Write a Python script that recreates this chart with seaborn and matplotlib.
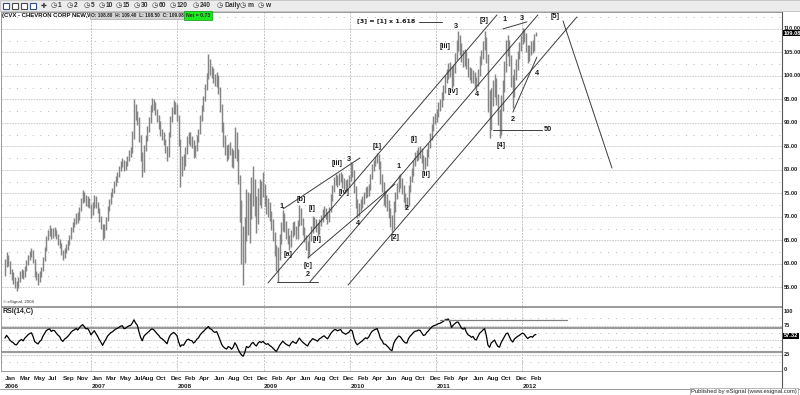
import numpy as np
import pandas as pd
import matplotlib
matplotlib.use("Agg")
import matplotlib.pyplot as plt
from matplotlib import font_manager as fm
import seaborn as sns

# ------------------------------------------------------------------ data
FIRST_WEEK = "2006-01-02"

CLOSE = [
    # 2006
    59.5, 61.5, 60.2, 58.5, 57.5, 56.8, 55.5, 55.2, 56.5, 57.6,
    58.2, 57.4, 59.0, 60.0, 61.2, 62.0, 62.5, 60.8, 58.0, 57.2,
    56.5, 57.8, 58.6, 61.0, 63.0, 65.5, 66.5, 67.2, 66.0, 67.0,
    66.8, 65.8, 64.9, 64.2, 62.5, 61.6, 62.8, 63.5, 64.4, 65.6,
    67.2, 68.3, 69.0, 70.2, 69.6, 71.5, 73.4, 74.8, 74.0, 73.2, 73.6, 72.6,
    # 2007
    71.0, 72.5, 74.0, 72.8, 71.5, 69.8, 68.2, 66.0, 67.8, 69.5,
    71.8, 73.2, 74.8, 75.5, 77.0, 78.2, 79.0, 80.2, 81.4, 81.8,
    80.6, 81.2, 82.5, 83.6, 84.0, 87.0, 93.0, 91.5, 90.5, 87.0,
    83.0, 80.0, 84.5, 86.8, 88.6, 90.5, 93.0, 94.5, 93.8, 92.5,
    91.0, 89.8, 88.0, 87.2, 86.0, 84.5, 83.0, 87.5, 90.8, 92.6, 93.8, 92.8,
    # 2008
    91.5, 86.0, 80.5, 82.0, 81.5, 84.0, 86.5, 87.2, 86.0, 85.8,
    83.5, 84.6, 86.8, 88.0, 91.0, 93.2, 95.0, 97.5, 99.8, 102.5,
    101.0, 100.5, 99.2, 98.6, 99.5, 97.0, 93.5, 89.0, 86.0, 84.2,
    83.0, 84.8, 84.0, 81.5, 83.0, 86.5, 83.5, 78.0, 72.0, 66.0,
    62.5, 66.0, 72.5, 70.0, 71.5, 74.8, 76.5, 72.8, 70.5, 74.0, 76.0, 74.5,
    # 2009
    76.0, 73.5, 71.8, 72.5, 70.0, 68.5, 66.0, 63.0, 60.2, 62.5,
    65.5, 68.0, 70.2, 68.0, 66.2, 65.0, 64.0, 66.5, 68.2, 67.0,
    66.0, 68.5, 71.2, 69.0, 67.0, 65.5, 64.0, 62.8, 65.5, 67.2,
    69.2, 68.5, 67.8, 67.0, 68.8, 69.6, 70.8, 71.5, 70.4, 69.5,
    71.5, 74.0, 76.0, 77.8, 78.2, 77.5, 78.4, 78.8, 77.4, 77.0, 76.5, 77.2, 78.0,
    # 2010
    80.0, 79.5, 76.0, 73.0, 71.2, 72.0, 72.8, 73.5, 74.6, 75.5,
    75.0, 76.2, 78.5, 80.5, 81.5, 82.2, 83.0, 81.0, 78.0, 76.5,
    74.0, 73.8, 72.5, 71.0, 69.0, 68.0, 72.0, 74.5, 76.2, 78.0,
    77.5, 76.0, 74.2, 73.0, 72.8, 76.0, 78.0, 79.5, 81.5, 82.8,
    83.0, 84.0, 83.8, 82.5, 81.2, 81.6, 83.5, 85.0, 87.0, 89.0, 90.5, 91.3,
    # 2011
    92.0, 93.5, 94.0, 95.5, 97.0, 99.5, 100.5, 102.0, 101.0, 98.5,
    101.5, 104.0, 106.5, 107.0, 105.5, 104.0, 103.5, 104.8, 102.5, 101.0,
    100.5, 99.5, 100.2, 98.5, 98.0, 100.5, 103.2, 104.5, 106.5, 107.8,
    104.0, 95.0, 92.0, 96.0, 97.5, 99.0, 95.0, 91.0, 90.0, 94.5,
    98.0, 102.0, 106.5, 107.5, 103.5, 99.0, 96.5, 100.5, 102.5, 104.5, 106.0, 108.0,
    # 2012
    109.5, 108.5, 106.0, 104.0, 105.5, 106.5, 105.8, 108.2, 109.08,
]

HIGH = [
    # 2006
    61.0, 62.6, 62.0, 60.6, 59.0, 58.2, 57.2, 56.3, 57.3, 58.4,
    59.0, 58.8, 59.6, 60.8, 61.8, 62.7, 63.4, 62.9, 61.0, 58.6,
    58.0, 58.4, 59.3, 61.5, 63.6, 66.0, 67.3, 68.3, 67.6, 67.7,
    67.8, 67.2, 66.3, 65.4, 64.5, 63.0, 63.4, 64.2, 65.0, 66.2,
    67.8, 69.0, 69.8, 70.9, 71.0, 72.2, 74.0, 75.8, 75.4, 74.6, 74.4, 74.0,
    # 2007
    72.8, 73.2, 74.6, 74.4, 73.2, 71.8, 70.2, 68.5, 68.5, 70.0,
    72.3, 73.8, 75.4, 76.2, 77.6, 78.8, 79.6, 80.8, 82.0, 82.5,
    82.2, 81.9, 83.0, 84.2, 84.8, 88.2, 95.0, 94.0, 92.5, 91.2,
    87.5, 83.8, 85.2, 87.4, 89.3, 91.2, 93.8, 95.4, 95.0, 94.4,
    93.0, 91.6, 90.4, 88.8, 88.0, 86.6, 85.0, 88.0, 91.5, 93.3, 94.9, 94.4,
    # 2008
    94.0, 91.6, 86.5, 83.0, 83.4, 84.8, 87.2, 88.0, 88.0, 87.2,
    86.4, 85.4, 87.4, 88.7, 91.6, 93.8, 95.8, 98.2, 100.6, 104.6,
    103.6, 102.2, 101.6, 100.4, 100.8, 100.2, 97.6, 94.0, 90.2, 87.4,
    85.4, 85.6, 86.0, 84.6, 84.2, 89.2, 88.0, 84.4, 79.0, 73.5,
    68.0, 70.0, 76.0, 75.4, 75.0, 78.6, 80.8, 78.0, 74.4, 76.2, 78.0, 77.6,
    # 2009
    79.5, 77.0, 74.6, 74.0, 73.2, 71.2, 69.6, 66.8, 64.0, 63.6,
    66.4, 69.0, 71.4, 70.8, 69.2, 67.6, 66.2, 67.2, 69.0, 69.2,
    68.0, 69.4, 72.6, 71.8, 69.8, 67.8, 66.2, 64.8, 66.2, 68.0,
    70.2, 70.0, 69.6, 68.8, 69.6, 70.4, 71.6, 72.4, 72.0, 71.0,
    72.2, 74.8, 76.8, 78.6, 79.2, 79.0, 79.4, 79.6, 79.2, 78.2, 77.8, 78.0, 79.0,
    # 2010
    81.6, 81.4, 80.0, 76.6, 73.8, 73.0, 73.8, 74.4, 75.4, 76.4,
    76.6, 77.0, 79.2, 81.2, 82.2, 83.0, 83.6, 83.4, 81.8, 79.2,
    77.4, 75.6, 74.8, 73.6, 72.0, 70.4, 73.4, 75.4, 77.2, 79.0,
    79.2, 78.2, 76.8, 75.0, 74.2, 76.8, 78.8, 80.4, 82.2, 83.8,
    84.2, 84.8, 85.0, 84.6, 83.2, 82.8, 84.4, 85.8, 87.8, 89.8, 91.4, 92.2,
    # 2011
    93.0, 94.4, 95.0, 96.6, 98.0, 100.2, 101.4, 102.8, 103.0, 101.8,
    102.4, 104.8, 107.6, 109.6, 108.8, 107.0, 105.6, 105.8, 105.4, 103.8,
    102.0, 101.6, 101.2, 100.8, 99.8, 101.4, 104.2, 105.6, 107.4, 109.6,
    108.2, 104.6, 97.0, 97.4, 99.2, 100.4, 99.6, 96.2, 93.0, 96.0,
    99.2, 103.2, 107.6, 108.8, 107.6, 104.4, 100.2, 101.4, 103.6, 105.4, 107.2, 108.8,
    # 2012
    110.2, 110.0, 109.2, 106.6, 106.6, 107.4, 107.6, 109.0, 109.40,
]

LOW = [
    # 2006
    57.5, 59.3, 59.5, 57.8, 56.6, 55.8, 54.8, 54.2, 54.9, 56.2,
    57.0, 56.8, 57.2, 58.6, 59.7, 60.8, 61.4, 60.2, 57.2, 56.5,
    55.6, 56.2, 57.3, 58.4, 60.7, 62.8, 65.0, 66.0, 65.3, 65.6,
    65.9, 65.2, 64.1, 63.4, 61.8, 60.8, 61.2, 62.4, 63.0, 64.0,
    65.3, 66.8, 67.8, 68.5, 68.8, 69.4, 71.2, 73.0, 73.2, 72.4, 72.2, 71.8,
    # 2007
    69.8, 70.5, 72.0, 72.0, 70.8, 69.0, 67.5, 65.0, 65.6, 67.2,
    69.2, 71.2, 72.8, 74.2, 75.0, 76.6, 77.5, 78.4, 79.8, 80.6,
    79.8, 79.9, 80.8, 82.0, 82.8, 83.6, 86.5, 90.6, 89.5, 86.0,
    82.0, 78.6, 79.6, 84.0, 86.2, 88.0, 90.0, 92.4, 92.8, 91.6,
    90.2, 88.8, 87.2, 86.4, 85.2, 83.6, 82.0, 82.8, 87.0, 90.2, 92.0, 92.0,
    # 2008
    90.4, 85.0, 76.4, 78.8, 80.0, 80.8, 83.4, 85.6, 85.0, 84.6,
    82.6, 82.8, 84.0, 86.0, 87.6, 90.4, 92.6, 94.6, 97.0, 99.4,
    100.2, 99.6, 98.4, 97.8, 97.6, 96.2, 92.4, 88.0, 84.8, 83.2,
    82.0, 82.4, 83.2, 80.6, 80.4, 82.6, 82.0, 77.0, 69.0, 60.0,
    55.5, 60.2, 64.8, 66.2, 64.5, 69.6, 72.4, 70.2, 66.5, 68.4, 72.6, 72.0,
    # 2009
    74.2, 72.4, 70.6, 70.0, 69.2, 67.2, 64.8, 61.6, 58.6, 56.1,
    60.8, 64.2, 67.0, 66.8, 65.2, 64.2, 63.0, 63.6, 65.8, 66.2,
    65.2, 65.4, 68.0, 68.2, 66.2, 64.6, 63.0, 61.2, 62.0, 64.8,
    66.6, 67.6, 66.8, 66.0, 66.4, 68.0, 69.0, 70.0, 69.6, 68.4,
    69.0, 71.0, 73.4, 75.2, 76.8, 76.4, 76.8, 77.4, 76.2, 75.8, 75.4, 75.8, 76.4,
    # 2010
    77.6, 78.6, 75.0, 72.0, 69.8, 70.2, 71.2, 72.0, 72.8, 74.0,
    74.2, 74.4, 75.8, 78.0, 79.8, 80.8, 81.4, 80.2, 77.0, 75.2,
    72.6, 72.2, 71.2, 69.8, 67.8, 66.8, 67.4, 71.0, 73.8, 75.4,
    76.2, 74.8, 73.2, 72.0, 71.8, 72.4, 75.2, 77.4, 78.8, 80.8,
    81.8, 82.2, 82.6, 81.4, 80.0, 80.2, 80.8, 82.8, 84.6, 86.4, 88.2, 89.8,
    # 2011
    90.2, 91.2, 92.6, 93.4, 94.8, 96.4, 98.6, 99.4, 99.8, 97.4,
    97.8, 100.6, 103.4, 105.2, 104.4, 103.0, 101.8, 102.2, 101.4, 99.8,
    99.2, 98.4, 98.6, 97.6, 96.8, 97.8, 100.0, 102.4, 103.6, 105.6,
    102.8, 92.4, 86.8, 88.6, 93.6, 95.6, 93.8, 89.6, 86.7, 87.4,
    92.6, 96.6, 100.8, 104.2, 102.2, 97.6, 93.2, 95.6, 99.2, 101.2, 103.6, 105.2,
    # 2012
    106.8, 107.2, 105.0, 102.8, 103.2, 104.4, 104.8, 105.2, 108.50,
]

PRICE_TICKS = [55, 60, 65, 70, 75, 80, 85, 90, 95, 100, 105, 110]
RSI_TICKS = [100, 75, 25, 0]
RSI_PERIOD = 14
RSI_SEED_GAIN = 0.80
RSI_SEED_LOSS = 0.70
LAST_PRICE = 109.08
LAST_RSI = 57.32

MONTH_TICKS = ["2006-01", "2006-03", "2006-05", "2006-07", "2006-09", "2006-11",
               "2007-01", "2007-03", "2007-05", "2007-07", "2007-08", "2007-10", "2007-12",
               "2008-02", "2008-04", "2008-06", "2008-08", "2008-10", "2008-12",
               "2009-02", "2009-04", "2009-06", "2009-08", "2009-10", "2009-12",
               "2010-02", "2010-04", "2010-06", "2010-08", "2010-10", "2010-12",
               "2011-02", "2011-04", "2011-06", "2011-08", "2011-10", "2011-12",
               "2012-02"]
YEARS = [2006, 2007, 2008, 2009, 2010, 2011, 2012]

# Elliott wave labels: (text, week index, price)
WAVE_LABELS = [
    ("1", 167.5, 72.3), ("[b]", 179.0, 73.8), ("[a]", 171.1, 62.1),
    ("[i]", 185.6, 71.9), ("[ii]", 188.6, 65.1), ("[c]", 183.2, 59.6),
    ("2", 183.2, 57.7), ("[iii]", 200.7, 81.3), ("3", 208.0, 82.3),
    ("[iv]", 205.0, 75.1), ("4", 213.4, 68.5), ("[1]", 224.9, 84.9),
    ("[2]", 235.8, 65.7), ("1", 238.2, 80.8), ("2", 243.0, 71.9),
    ("[i]", 247.3, 86.4), ("[ii]", 254.5, 79.1), ("[iii]", 266.0, 106.2),
    ("[iv]", 270.9, 96.6), ("3", 272.7, 110.6), ("4", 285.4, 96.0),
    ("[3]", 289.6, 111.7), ("[4]", 299.9, 85.1), ("1", 302.3, 111.9),
    ("2", 307.1, 90.8), ("3", 312.6, 112.3), ("4", 321.6, 100.6),
    ("[5]", 332.5, 112.6), ("50", 328.3, 88.5),
]
FIB_TEXT = ("[3] = [1] x 1.618", 247.9, 111.7)

# Trend lines: (week0, price0, week1, price1)
TREND_LINES = [
    (159.0, 55.95, 297.5, 112.98),
    (184.4, 56.2, 322.2, 112.98),
    (207.4, 55.5, 345.8, 112.55),
    (168.1, 71.7, 214.6, 82.55),
    (183.2, 61.3, 235.8, 77.0),
    (164.4, 56.2, 189.2, 56.2),
    (301.1, 110.0, 315.6, 111.5),
    (307.1, 92.3, 321.6, 104.0),
    (337.4, 111.7, 367.0, 80.4),
    (295.0, 88.5, 324.7, 88.5),
    (250.3, 111.5, 264.2, 111.5),
]
RSI_LEVEL_LINE = (263.0, 339.8, 84.5)

TOOLBAR_LABELS = ["1", "2", "5", "10", "15", "30", "60", "120", "240", "Daily", "m", "w"]

# ------------------------------------------------------------------ setup
sns.set_style("white")
names = {f.name for f in fm.fontManager.ttflist}
narrow = "Liberation Sans Narrow" if "Liberation Sans Narrow" in names else "Liberation Sans"
plt.rcParams["font.family"] = [narrow, "DejaVu Sans"]

W, H = 800, 395
fig = plt.figure(figsize=(8, 3.95), dpi=100)
fig.patch.set_facecolor("white")


def fx(px):
    return px / W


def fy(py):
    return 1 - py / H


START = pd.Timestamp(FIRST_WEEK)


def wk(s):
    return (pd.Timestamp(s) - START).days / 7.0


n = min(len(CLOSE), len(HIGH), len(LOW))
weeks = np.arange(n)
close = np.array(CLOSE[:n])
high = np.array(HIGH[:n])
low = np.array(LOW[:n])

# Wilder RSI
gain, loss = RSI_SEED_GAIN, RSI_SEED_LOSS
rsi = []
prev = close[0]
for c in close:
    d = c - prev
    gain = (gain * (RSI_PERIOD - 1) + max(d, 0)) / RSI_PERIOD
    loss = (loss * (RSI_PERIOD - 1) + max(-d, 0)) / RSI_PERIOD
    rsi.append(100 - 100 / (1 + gain / loss) if loss > 0 else 100)
    prev = c
df = pd.DataFrame({"week": weeks, "close": close, "high": high, "low": low, "rsi": rsi})

XL = (-2.4, 469.8)
ax = fig.add_axes([fx(1), fy(306), (782 - 1) / W, (306 - 12) / H])
axr = fig.add_axes([fx(1), fy(371), (782 - 1) / W, (371 - 307) / H])
for a in (ax, axr):
    a.set_xlim(*XL)
    a.set_facecolor("white")
    a.tick_params(left=False, bottom=False, right=False, top=False,
                  labelleft=False, labelbottom=False)
    for s in a.spines.values():
        s.set_color("#9a9a9a")
        s.set_linewidth(0.7)
    a.spines["right"].set_color("#555555")
ax.set_ylim(51.05, 113.6)
axr.set_ylim(-3.4, 106.9)

GRID = "#c4c4c4"
for p in PRICE_TICKS:
    ax.axhline(p, color=GRID, lw=0.6, ls=(0, (2, 1.2)), zorder=0)
    ax.axhline(p + 2.5, color="#b8b8b8", lw=0.7, ls=(0, (1, 7)), zorder=0)
for r in (75, 50, 25):
    axr.axhline(r, color=GRID, lw=0.6, ls=(0, (2, 1.2)), zorder=0)
for r in (87.5, 62.5, 37.5, 12.5):
    axr.axhline(r, color="#b8b8b8", lw=0.7, ls=(0, (1, 7)), zorder=0)
for y in YEARS[1:]:
    for a in (ax, axr):
        a.axvline(wk(f"{y}-01-01"), color=GRID, lw=0.7, ls=(0, (2, 1.2)), zorder=0)

# price bars
ax.vlines(df["week"], df["low"], df["high"], color="#858585", lw=1.05, zorder=2)

# trend lines
for w0, p0, w1, p1 in TREND_LINES:
    ax.plot([w0, w1], [p0, p1], color="#3c3c3c", lw=0.7, zorder=3)

# wave labels
for t, w, p in WAVE_LABELS:
    ax.text(w, p, t, ha="center", va="center", fontsize=5.2, fontweight="bold",
            color="#1a1a1a", zorder=4)
ax.text(FIB_TEXT[1], FIB_TEXT[2], FIB_TEXT[0], ha="right", va="center",
        fontsize=4.6, fontweight="bold", color="#1a1a1a", family="DejaVu Sans")

# right price labels
LBL = dict(fontsize=4.1, fontweight="bold")
ytr = ax.get_yaxis_transform()
for p in PRICE_TICKS:
    ax.text(1.0025, p, f"{p:.2f}", transform=ytr, ha="left", va="center",
            color="#222222", **LBL)
ax.text(1.0025, LAST_PRICE, f"{LAST_PRICE:.2f}", transform=ytr, ha="left", va="center",
        color="white", bbox=dict(facecolor="black", edgecolor="none",
                                 boxstyle="square,pad=0.12"), **LBL)

# RSI
sns.lineplot(data=df, x="week", y="rsi", ax=axr, color="black", lw=0.9, legend=False)
axr.set_xlabel("")
axr.set_ylabel("")
axr.set_xlim(*XL)
axr.tick_params(left=False, bottom=False, labelleft=False, labelbottom=False)
for r in (70, 30):
    axr.axhline(r, color="#9a9a9a", lw=1.5, zorder=1)
axr.plot([RSI_LEVEL_LINE[0], RSI_LEVEL_LINE[1]], [RSI_LEVEL_LINE[2]] * 2,
         color="#808080", lw=0.9)
rtr = axr.get_yaxis_transform()
for r in RSI_TICKS:
    axr.text(1.0025, r, f"{r}", transform=rtr, ha="left", va="center",
             color="#222222", **LBL)
axr.text(1.0025, LAST_RSI, f"{LAST_RSI:.2f}", transform=rtr, ha="left", va="center",
         color="white", bbox=dict(facecolor="black", edgecolor="none",
                                  boxstyle="square,pad=0.12"), **LBL)
axr.text(0.002, 0.93, "RSI(14,C)", transform=axr.transAxes, ha="left", va="center",
         fontsize=5.0, fontweight="bold", color="#222222")
ax.text(0.003, 0.008, "© eSignal, 2008", transform=ax.transAxes, ha="left", va="bottom",
        fontsize=3.2, color="#333333")

# x labels
xtr = axr.get_xaxis_transform()
for m in MONTH_TICKS:
    axr.text(wk(m + "-01") + 0.3, -0.11, pd.Timestamp(m + "-01").strftime("%b"),
             transform=xtr, ha="left", va="center", fontsize=4.6, fontweight="bold",
             color="#222222", clip_on=False)
for y in YEARS:
    axr.text(wk(f"{y}-01-01") + 0.3, -0.235, str(y), transform=xtr, ha="left",
             va="center", fontsize=4.6, fontweight="bold", color="#222222", clip_on=False)

# ------------------------------------------------------------------ chrome
fig.add_artist(plt.Rectangle((0, fy(11)), 1, 11 / H, transform=fig.transFigure,
                             facecolor="#ececec", edgecolor="#c0c0c0", lw=0.6))
icon_cols = ["#33508a", "#4a4a4a", "#4a4a4a", "#33508a"]
for k, col in enumerate(icon_cols):
    fig.add_artist(plt.Rectangle((fx(3 + k * 9), fy(9)), 6 / W, 6 / H,
                                 transform=fig.transFigure, facecolor="white",
                                 edgecolor=col, lw=0.8))
fig.text(fx(41), fy(5.5), "✚", fontsize=5, color="#333333", va="center",
         family="DejaVu Sans")
tb_x = [51, 67, 84, 99, 116, 134, 152, 170, 193, 217, 240, 258]
for lab, px in zip(TOOLBAR_LABELS, tb_x):
    fig.text(fx(px), fy(5.5), "◷", fontsize=5.2, color="#333333", va="center",
             family="DejaVu Sans")
    fig.text(fx(px + 7), fy(5.5), lab, fontsize=4.8, color="#333333", va="center",
             fontweight="bold")

fig.text(fx(2), fy(15.5), "(CVX - CHEVRON CORP NEW,W)", fontsize=4.3, fontweight="bold",
         color="#111111", va="center")
fig.text(fx(91), fy(15.5), "O: 108.80  H: 109.40  L: 108.50  C: 109.08", fontsize=3.4,
         fontweight="bold", color="#222222", va="center",
         bbox=dict(facecolor="#d4d4d4", edgecolor="#a8a8a8", lw=0.5,
                   boxstyle="square,pad=0.3"))
fig.text(fx(186), fy(15.5), "Net = 0.73", fontsize=3.7, fontweight="bold",
         color="#222222", va="center",
         bbox=dict(facecolor="#1ee81e", edgecolor="#0a9a0a", lw=0.5,
                   boxstyle="square,pad=0.3"))

fig.add_artist(plt.Line2D([fx(782), fx(782)], [fy(12), fy(389)], transform=fig.transFigure,
                          color="#555555", lw=0.8))
fig.add_artist(plt.Line2D([0, 1], [fy(389), fy(389)], transform=fig.transFigure,
                          color="#9a9a9a", lw=0.7))
fig.text(fx(797), fy(391.5), "Published by eSignal (www.esignal.com)", fontsize=4.2,
         color="#222222", ha="right", va="center",
         bbox=dict(facecolor="white", edgecolor="#9a9a9a", lw=0.5,
                   boxstyle="square,pad=0.2"))

fig.savefig("out.png", dpi=100, facecolor="white")
